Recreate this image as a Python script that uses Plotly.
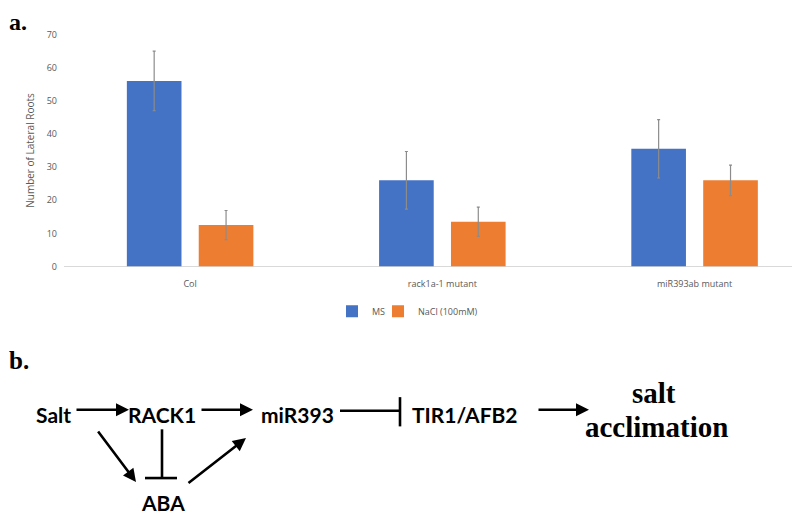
import plotly.graph_objects as go

categories = ["Col", "rack1a-1 mutant", "miR393ab mutant"]
ms_values = [56, 26, 35.5]
ms_err = [9, 8.7, 8.8]
nacl_values = [12.5, 13.5, 26]
nacl_err = [4.4, 4.4, 4.6]
series_names = ["MS", "NaCl (100mM)"]
y_ticks = [0, 10, 20, 30, 40, 50, 60, 70]

W, H = 800, 517
OFF = 8  # page body margin of the browser shifts the figure by this amount


def px(x):
    return (x - OFF) / W


def py(y):
    return 1 - (y - OFF) / H


fig = go.Figure()
fig.add_trace(go.Bar(
    x=categories, y=ms_values, name=series_names[0], legend="legend",
    marker=dict(color="#4472C4", line=dict(width=0)),
    error_y=dict(type="data", array=ms_err, color="#8c8c8c", thickness=1.2, width=1.5),
))
fig.add_trace(go.Bar(
    x=categories, y=nacl_values, name=series_names[1], legend="legend2",
    marker=dict(color="#ED7D31", line=dict(width=0)),
    error_y=dict(type="data", array=nacl_err, color="#8c8c8c", thickness=1.2, width=1.5),
))

legend_font = dict(family="Open Sans", size=9, color="#595959")
fig.update_layout(
    width=W, height=H,
    margin=dict(l=0, r=0, t=0, b=0),
    paper_bgcolor="white", plot_bgcolor="white",
    barmode="group", bargap=0.43, bargroupgap=0.24,
    xaxis=dict(domain=[px(64), px(798)], range=[-0.5, 2.41], showgrid=False,
               showline=False, ticks="", ticklen=0, ticklabelstandoff=10,
               tickfont=dict(family="Open Sans", size=9, color="#595959"),
               zeroline=False),
    yaxis=dict(domain=[py(266), py(28)], range=[0, 70], tickvals=y_ticks,
               showgrid=False, zeroline=True, zerolinecolor="#d9d9d9", zerolinewidth=1,
               showline=False, ticks="", ticklen=0, ticklabelstandoff=6,
               tickfont=dict(family="Open Sans", size=9, color="#595959"),
               title=dict(text="Number of Lateral Roots", font=dict(family="Open Sans", size=10, color="#595959"),
                          standoff=10)),
    legend=dict(orientation="h", x=px(332), y=py(312), xanchor="left", yanchor="middle",
                font=legend_font, bgcolor="rgba(0,0,0,0)", itemwidth=30),
    legend2=dict(orientation="h", x=px(378), y=py(312), xanchor="left", yanchor="middle",
                 font=legend_font, bgcolor="rgba(0,0,0,0)", itemwidth=30),
    showlegend=True,
)

ann = []
shapes = []
serif = "Times New Roman, Liberation Serif, DejaVu Serif, serif"
sans = "Lato"


def label(x, y, text, size=21, family=sans, xanchor="center"):
    ann.append(dict(x=px(x), y=py(y), xref="paper", yref="paper", text=text, showarrow=False,
                    font=dict(family=family, size=size, color="black"), xanchor=xanchor, yanchor="middle"))


def arrow(x0, y0, x1, y1):
    ann.append(dict(x=px(x1), y=py(y1), ax=x0 - x1, ay=y0 - y1, xref="paper", yref="paper",
                    axref="pixel", ayref="pixel",
                    text="", showarrow=True, arrowhead=2, arrowsize=1, arrowwidth=2.6,
                    arrowcolor="black"))


def line(x0, y0, x1, y1, w=2.6):
    shapes.append(dict(type="line", x0=px(x0), y0=py(y0), x1=px(x1), y1=py(y1), xref="paper", yref="paper",
                       line=dict(color="black", width=w)))


# panel labels
label(7, 15, "<b>a.</b>", size=24, family=serif, xanchor="left")
label(7, 362, "<b>b.</b>", size=25, family=serif, xanchor="left")

# diagram nodes
label(53, 418, "<b>Salt</b>")
label(162, 418, "<b>RACK1</b>")
label(297, 418, "<b>miR393</b>")
label(465, 418, "<b>TIR1/AFB2</b>")
label(163, 508, "<b>ABA</b>")
label(654, 396, "<b>salt</b>", size=29, family=serif)
label(656, 431, "<b>acclimation</b>", size=29, family=serif)

# arrows
arrow(75, 413, 129, 413)
arrow(200, 413, 253, 413)
arrow(537, 413, 589, 413)
arrow(97, 435, 136, 487)
arrow(187, 488, 246, 442)

# inhibition lines
line(340, 414, 400, 414)
line(400, 400, 400, 430)
line(162, 433, 162, 483)
line(145, 483, 177, 483)

fig.update_layout(annotations=ann, shapes=shapes)

fig.write_html("out.html")
